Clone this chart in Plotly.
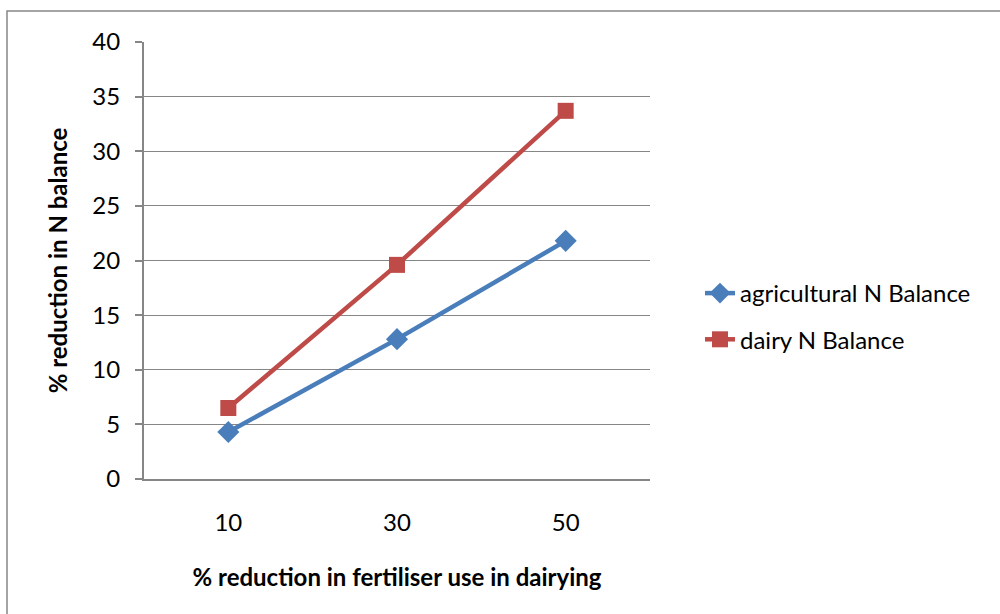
import plotly.graph_objects as go

categories = ["10", "30", "50"]
agricultural = [4.3, 12.8, 21.8]
dairy = [6.5, 19.6, 33.7]
series_names = ["agricultural N Balance", "dairy N Balance"]
y_ticks = [0, 5, 10, 15, 20, 25, 30, 35, 40]

W, H = 1000, 614
L, R, T, B = 144, 650, 42, 479  # plot area pixels

def px_x(p):
    return (p - L) / (R - L)

def px_y(p):
    return (B - p) / (B - T)

FONT = "Lato"
FS = 24
fig = go.Figure()
fig.add_trace(go.Scatter(
    x=categories, y=agricultural, name=series_names[0], mode="lines+markers",
    legendgroup="a",
    line=dict(color="#4A7EBB", width=4.5),
    marker=dict(symbol="diamond", size=17, color="#4A7EBB"),
))
fig.add_trace(go.Scatter(
    x=categories, y=dairy, name=series_names[1], mode="lines+markers",
    legendgroup="b",
    line=dict(color="#BE4B48", width=4.5),
    marker=dict(symbol="square", size=16, color="#BE4B48"),
))

fig.update_layout(
    width=W, height=H,
    margin=dict(l=L, r=W - R, t=T, b=H - B, pad=0),
    paper_bgcolor="white", plot_bgcolor="white",
    font=dict(family=FONT, size=FS, color="black"),
    showlegend=True,
    legend=dict(x=px_x(700), y=px_y(271), xanchor="left", yanchor="top",
                font=dict(size=FS), tracegroupgap=12, itemwidth=30,
                bgcolor="rgba(0,0,0,0)"),
    xaxis=dict(type="category", range=[-0.5, 2.5], showgrid=False, showline=True,
               linecolor="#868686", linewidth=2, ticks="", ticklabelstandoff=21,
               title=dict(text="<b>% reduction in fertiliser use in dairying</b>",
                          font=dict(size=FS), standoff=34)),
    yaxis=dict(range=[0, 40], tickvals=y_ticks, showgrid=True, gridcolor="#868686",
               gridwidth=1.3, showline=True, linecolor="#868686", linewidth=2,
               ticks="outside", ticklen=7, tickcolor="#868686", tickwidth=1.5,
               ticklabelstandoff=10, zeroline=False,
               title=dict(text="<b>% reduction in N balance</b>",
                          font=dict(size=FS), standoff=18)),
    shapes=[dict(type="path", xref="paper", yref="paper",
                 path=f"M {px_x(7)},{px_y(625)} L {px_x(7)},{px_y(11)} L {px_x(1010)},{px_y(11)}",
                 line=dict(color="#868686", width=1.5))],
)

fig.write_html("out.html")
